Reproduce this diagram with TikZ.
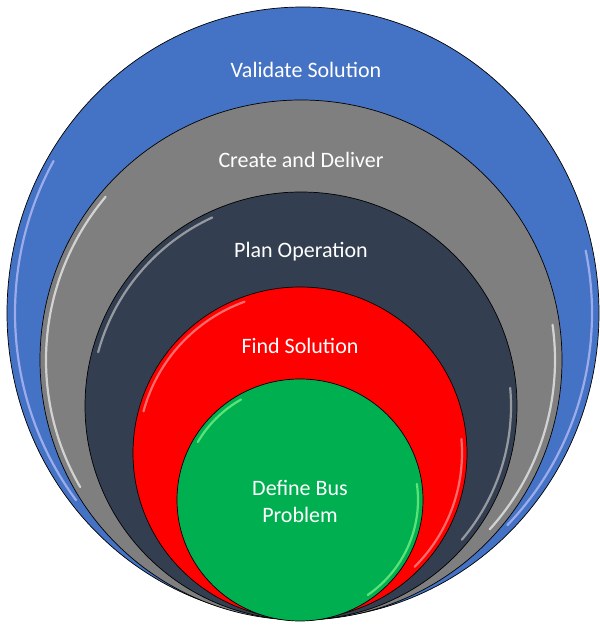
\documentclass[tikz,border=0pt]{standalone}
\usepackage{fontspec}
\setmainfont{Carlito}
\usepackage{xcolor}
\usepackage{tikz}
\usetikzlibrary{shapes.geometric,positioning}

\definecolor{ringblue}{HTML}{4472C4}
\definecolor{ringgray}{HTML}{7F7F7F}
\definecolor{ringnavy}{HTML}{333F50}
\definecolor{ringred}{HTML}{FF0000}
\definecolor{ringgreen}{HTML}{00B050}

\tikzset{
    ring/.style={ellipse, draw=black, line width=0.7pt, inner sep=0pt},
    lbl/.style={text=white, font=\fontsize{22}{27}\selectfont, align=center},
    gloss/.style={line width=2.2pt, line cap=round, opacity=0.65},
}

\begin{document}
\begin{tikzpicture}[x=1pt,y=1pt]
    \useasboundingbox (0,0) rectangle (600,625);
    % rings, outermost first
    \node[ring, fill=ringblue, minimum width=592pt, minimum height=612pt] (validate) at (303,312) {};
    \draw[gloss, color=blue!20] (validate.center) ++(150:288pt and 304pt) arc[start angle=150, end angle=218, x radius=288pt, y radius=304pt];
    \draw[gloss, color=blue!20] (validate.center) ++(-45:289pt and 300pt) arc[start angle=-45, end angle=12, x radius=289pt, y radius=300pt];

    \node[ring, fill=ringgray, minimum width=522pt, minimum height=520pt] (deliver) at (301,265) {};
    \draw[gloss, color=white] (deliver.center) ++(140:255pt and 254pt) arc[start angle=140, end angle=210, x radius=255pt, y radius=254pt];
    \draw[gloss, color=white] (deliver.center) ++(-42:254pt and 253pt) arc[start angle=-42, end angle=8, x radius=254pt, y radius=253pt];

    \node[ring, fill=ringnavy, minimum width=432pt, minimum height=428pt] (plan) at (301,219) {};
    \draw[gloss, color=gray!40] (plan.center) ++(115:210pt and 208pt) arc[start angle=115, end angle=165, x radius=210pt, y radius=208pt];
    \draw[gloss, color=gray!40] (plan.center) ++(-40:210pt and 208pt) arc[start angle=-40, end angle=5, x radius=210pt, y radius=208pt];

    \node[ring, fill=ringred, minimum width=334pt, minimum height=332pt] (find) at (300,172) {};
    \draw[gloss, color=red!35] (find.center) ++(110:162pt and 161pt) arc[start angle=110, end angle=165, x radius=162pt, y radius=161pt];
    \draw[gloss, color=red!35] (find.center) ++(-45:162pt and 161pt) arc[start angle=-45, end angle=5, x radius=162pt, y radius=161pt];

    \node[ring, fill=ringgreen, minimum width=246pt, minimum height=242pt] (define) at (300,125) {};
    \draw[gloss, color=green!45] (define.center) ++(120:118pt and 116pt) arc[start angle=120, end angle=150, x radius=118pt, y radius=116pt];
    \draw[gloss, color=green!45] (define.center) ++(-55:118pt and 116pt) arc[start angle=-55, end angle=8, x radius=118pt, y radius=116pt];

    % labels
    \node[lbl] (validatetxt) at (306,555) {Validate Solution};
    \node[lbl] (delivertxt) at (301,465) {Create and Deliver};
    \node[lbl] (plantxt) at (301,373) {Plan Operation};
    \node[lbl] (findtxt) at (300,279) {Find Solution};
    \node[lbl] (definetxt) at (300,124) {Define Bus\\Problem};
\end{tikzpicture}
\end{document}
